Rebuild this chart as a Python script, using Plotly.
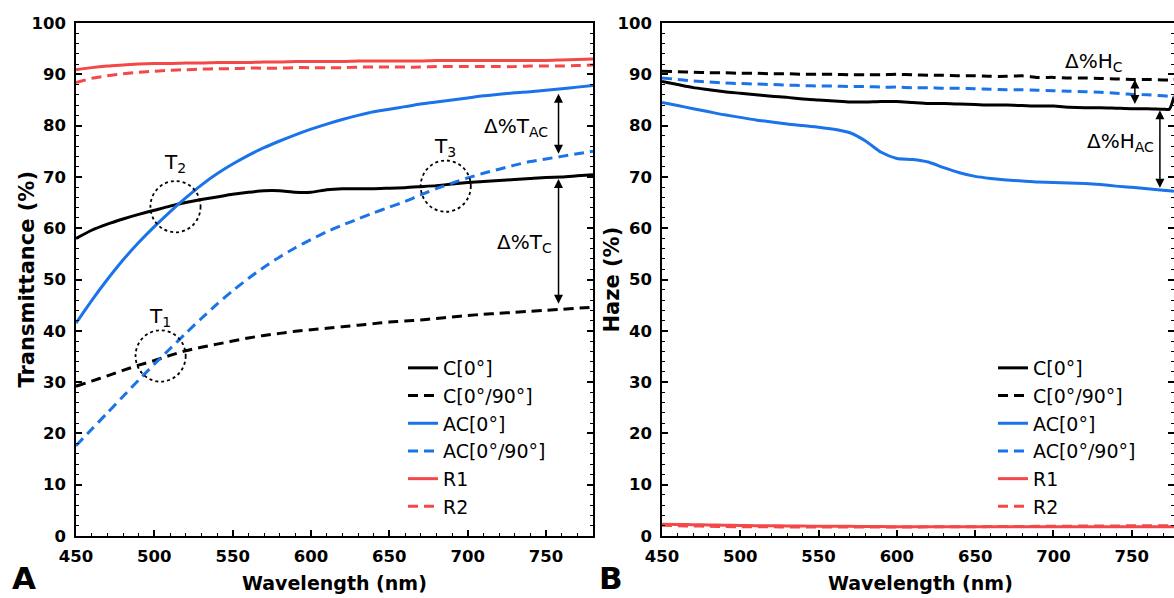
import plotly.graph_objects as go

# ---------------- data ----------------
wl_T = [450, 460, 470, 480, 490, 500, 510, 520, 530, 540, 550, 560, 570, 580, 590, 600, 610,
        620, 630, 640, 650, 660, 670, 680, 690, 700, 710, 720, 730, 740, 750, 760, 770, 780]

T_C0 = [58.0, 59.6, 60.8, 61.8, 62.7, 63.5, 64.3, 65.0, 65.6, 66.1, 66.6, 67.0, 67.3, 67.3, 67.0,
        67.0, 67.5, 67.7, 67.7, 67.7, 67.8, 67.9, 68.1, 68.3, 68.6, 68.9, 69.1, 69.3, 69.5, 69.7,
        69.9, 70.0, 70.2, 70.4]
T_C90 = [29.2, 30.2, 31.2, 32.3, 33.3, 34.2, 35.2, 36.1, 36.8, 37.4, 38.0, 38.6, 39.1, 39.5, 39.9,
         40.2, 40.5, 40.8, 41.1, 41.4, 41.7, 41.9, 42.1, 42.4, 42.7, 43.0, 43.2, 43.4, 43.6, 43.8,
         44.0, 44.2, 44.4, 44.6]
T_AC0 = [41.5, 45.9, 50.0, 53.8, 57.2, 60.3, 63.2, 65.9, 68.4, 70.6, 72.5, 74.2, 75.7, 77.0, 78.2,
         79.3, 80.3, 81.2, 82.0, 82.7, 83.2, 83.7, 84.2, 84.6, 85.0, 85.4, 85.8, 86.1, 86.4, 86.6,
         86.9, 87.2, 87.5, 87.8]
T_AC90 = [17.6, 20.8, 24.0, 27.2, 30.4, 33.5, 36.5, 39.5, 42.4, 45.2, 47.8, 50.2, 52.4, 54.4, 56.2,
          57.8, 59.3, 60.6, 61.8, 63.0, 64.1, 65.2, 66.5, 67.7, 68.8, 69.8, 70.7, 71.5, 72.3, 73.0,
          73.5, 74.0, 74.5, 75.0]
T_R1 = [90.9, 91.3, 91.6, 91.8, 92.0, 92.1, 92.1, 92.2, 92.2, 92.3, 92.3, 92.3, 92.4, 92.4, 92.5,
        92.5, 92.5, 92.5, 92.6, 92.6, 92.6, 92.6, 92.6, 92.7, 92.7, 92.7, 92.7, 92.7, 92.7, 92.7,
        92.7, 92.8, 92.9, 93.0]
T_R2 = [88.4, 89.2, 89.7, 90.1, 90.4, 90.6, 90.8, 90.9, 91.0, 91.1, 91.1, 91.2, 91.2, 91.2, 91.3,
        91.3, 91.3, 91.3, 91.4, 91.4, 91.4, 91.4, 91.4, 91.5, 91.5, 91.5, 91.5, 91.5, 91.5, 91.6,
        91.6, 91.6, 91.7, 91.8]

wl_H = [450, 460, 470, 480, 490, 500, 510, 520, 530, 540, 550, 560, 570, 580, 590, 600, 610,
        620, 630, 640, 650, 660, 670, 680, 690, 700, 710, 720, 730, 740, 750, 760, 770, 774, 777]

H_C0 = [88.6, 88.0, 87.4, 87.0, 86.6, 86.3, 86.0, 85.7, 85.5, 85.2, 85.0, 84.8, 84.6, 84.6, 84.7,
        84.7, 84.5, 84.3, 84.3, 84.2, 84.1, 84.0, 84.0, 83.9, 83.8, 83.8, 83.6, 83.5, 83.5, 83.4,
        83.3, 83.3, 83.2, 83.2, 85.6]
H_C90 = [90.6, 90.5, 90.4, 90.3, 90.3, 90.2, 90.2, 90.1, 90.1, 90.0, 90.0, 90.0, 89.9, 89.9, 89.9,
         90.0, 89.9, 89.8, 89.8, 89.7, 89.7, 89.6, 89.6, 89.7, 89.4, 89.4, 89.3, 89.3, 89.2, 89.1,
         89.0, 89.0, 88.9, 88.9, 89.0]
H_AC0 = [84.5, 83.9, 83.3, 82.7, 82.1, 81.6, 81.1, 80.7, 80.3, 80.0, 79.7, 79.3, 78.6, 77.0, 74.8,
         73.6, 73.4, 72.9, 71.8, 70.8, 70.1, 69.7, 69.4, 69.2, 69.0, 68.9, 68.8, 68.7, 68.5, 68.2,
         68.0, 67.7, 67.4, 67.3, 67.2]
H_AC90 = [89.3, 89.0, 88.7, 88.5, 88.3, 88.2, 88.1, 88.0, 87.9, 87.8, 87.7, 87.7, 87.6, 87.6, 87.5,
          87.5, 87.4, 87.4, 87.3, 87.3, 87.2, 87.1, 87.0, 87.0, 86.9, 86.8, 86.7, 86.6, 86.5, 86.3,
          86.1, 86.0, 85.8, 85.7, 85.6]
H_R1 = [2.3, 2.25, 2.2, 2.15, 2.1, 2.05, 2.0, 2.0, 1.95, 1.95, 1.9, 1.9, 1.9, 1.85, 1.85,
        1.8, 1.8, 1.8, 1.8, 1.8, 1.8, 1.8, 1.8, 1.8, 1.8, 1.8, 1.8, 1.8, 1.8, 1.8,
        1.8, 1.8, 1.8, 1.8, 1.8]
H_R2 = [2.1, 2.0, 1.95, 1.9, 1.85, 1.8, 1.8, 1.8, 1.75, 1.75, 1.75, 1.75, 1.75, 1.75, 1.75,
        1.75, 1.75, 1.8, 1.8, 1.8, 1.8, 1.85, 1.85, 1.85, 1.9, 1.9, 1.9, 1.95, 1.95, 1.95,
        2.0, 2.0, 2.0, 2.0, 2.0]

series_names = ["C[0°]", "C[0°/90°]", "AC[0°]", "AC[0°/90°]", "R1", "R2"]
x_ticks = [450, 500, 550, 600, 650, 700, 750]
y_ticks = [0, 10, 20, 30, 40, 50, 60, 70, 80, 90, 100]

# crossing-point circles (center wl, center %, radius wl, radius %) and labels
circles = [(504, 35.1, 16, 5.0), (513.5, 64.2, 16, 5.0), (686, 68.2, 16, 5.0)]
circle_labels = [("T<sub>1</sub>", 503.6, 42.7), ("T<sub>2</sub>", 513, 72.7), ("T<sub>3</sub>", 685.5, 75.8)]

# ---------------- styles ----------------
BLACK = "#000000"
BLUE = "#1a73e8"
RED = "#f44848"
colors = [BLACK, BLACK, BLUE, BLUE, RED, RED]
dashes = ["solid", "10px,6px", "solid", "10px,6px", "solid", "10px,6px"]
FONT = "DejaVu Sans"

fig = go.Figure()

T_series = [T_C0, T_C90, T_AC0, T_AC90, T_R1, T_R2]
H_series = [H_C0, H_C90, H_AC0, H_AC90, H_R1, H_R2]

for name, ys, c, d in zip(series_names, T_series, colors, dashes):
    fig.add_trace(go.Scatter(x=wl_T, y=ys, mode="lines", name=name,
                             line=dict(color=c, width=3, dash=d, shape="spline", smoothing=0.6),
                             xaxis="x", yaxis="y", legend="legend"))
for name, ys, c, d in zip(series_names, H_series, colors, dashes):
    fig.add_trace(go.Scatter(x=wl_H, y=ys, mode="lines", name=name,
                             line=dict(color=c, width=3, dash=d, shape="spline", smoothing=0.6),
                             xaxis="x2", yaxis="y2", legend="legend2"))

W, H = 1174, 598
top, bottom = 23, 536

def px(xp):
    return xp / W

def py(yp):
    return (bottom - yp) / (bottom - top)

tickfont = dict(family=FONT, size=16.5, color="black", weight="bold")
axis_common = dict(showline=True, linecolor="black", linewidth=1.5, ticks="inside",
                   tickcolor="black", tickwidth=1.5, ticklen=6, showgrid=False,
                   zeroline=False, tickfont=tickfont, automargin=False)

xa = dict(axis_common, tickmode="array", tickvals=x_ticks, mirror=True, ticklabelstandoff=4,
          minor=dict(ticks="inside", ticklen=3, tickwidth=1.2, dtick=10, tick0=450,
                     tickcolor="black", showgrid=False))
ya = dict(axis_common, tickmode="array", tickvals=y_ticks, mirror="ticks", range=[0, 100],
          ticklabelstandoff=5,
          minor=dict(ticks="inside", ticklen=3, tickwidth=1.2, dtick=2, tick0=0,
                     tickcolor="black", showgrid=False))

fig.update_layout(
    width=W, height=H,
    margin=dict(l=0, r=0, t=top, b=H - bottom, autoexpand=False),
    paper_bgcolor="white", plot_bgcolor="white",
    font=dict(family=FONT, color="black"),
    xaxis=dict(xa, domain=[px(76), px(593)], range=[450, 780], anchor="y"),
    yaxis=dict(ya, anchor="x"),
    xaxis2=dict(xa, domain=[px(662), 1.0], range=[450, 777], anchor="y2"),
    yaxis2=dict(ya, anchor="x2"),
    legend=dict(x=px(403), y=py(349), xanchor="left", yanchor="top",
                bgcolor="rgba(0,0,0,0)", font=dict(family=FONT, size=19, color="black"),
                tracegroupgap=0),
    legend2=dict(x=px(993), y=py(349), xanchor="left", yanchor="top",
                 bgcolor="rgba(0,0,0,0)", font=dict(family=FONT, size=19, color="black"),
                 tracegroupgap=0),
    showlegend=True,
)

# axis titles
title_font = dict(family=FONT, size=19, color="black", weight="bold")
ytitle_font = dict(family=FONT, size=21, color="black", weight="bold")
for xc in (334, 920):
    fig.add_annotation(text="Wavelength (nm)", x=px(xc), y=py(583), xref="paper", yref="paper",
                       showarrow=False, font=title_font, xanchor="center", yanchor="middle")
fig.add_annotation(text="Transmittance (%)", x=px(26), y=0.5, xref="paper", yref="paper",
                   showarrow=False, font=ytitle_font, textangle=-90,
                   xanchor="center", yanchor="middle")
fig.add_annotation(text="Haze (%)", x=px(611), y=0.5, xref="paper", yref="paper",
                   showarrow=False, font=ytitle_font, textangle=-90,
                   xanchor="center", yanchor="middle")

# panel letters
panel_font = dict(family=FONT, size=31, color="black", weight="bold")
fig.add_annotation(text="A", x=px(24), y=py(578), xref="paper", yref="paper",
                   showarrow=False, font=panel_font, xanchor="center", yanchor="middle")
fig.add_annotation(text="B", x=px(611), y=py(578), xref="paper", yref="paper",
                   showarrow=False, font=panel_font, xanchor="center", yanchor="middle")

# dotted circles and their labels
for (cx, cy, rx, ry) in circles:
    fig.add_shape(type="circle", xref="x", yref="y", x0=cx - rx, x1=cx + rx,
                  y0=cy - ry, y1=cy + ry, line=dict(color="black", width=1.8, dash="dot"))
lab_font = dict(family=FONT, size=20, color="black")
for (t, lx, ly) in circle_labels:
    fig.add_annotation(text=t, x=lx, y=ly, xref="x", yref="y", showarrow=False,
                       font=lab_font, xanchor="center", yanchor="middle")

# difference arrows
def darrow(x, y0, y1, xr, yr):
    fig.add_annotation(x=x, y=y1, ax=x, ay=y0, xref=xr, yref=yr, axref=xr, ayref=yr,
                       text="", showarrow=True, arrowhead=2, startarrowhead=2,
                       arrowside="end+start", arrowsize=1.2, startarrowsize=1.2,
                       arrowwidth=1.5, arrowcolor="black", standoff=0, startstandoff=0)

darrow(758, 74.2, 86.2, "x", "y")
darrow(758, 45.0, 69.6, "x", "y")
darrow(752, 83.9, 89.0, "x2", "y2")
darrow(768, 67.6, 83.0, "x2", "y2")

fig.add_annotation(text="Δ%T<sub>AC</sub>", x=731, y=79.7, xref="x", yref="y", showarrow=False,
                   font=lab_font, xanchor="center", yanchor="middle")
fig.add_annotation(text="Δ%T<sub>C</sub>", x=736.5, y=57.1, xref="x", yref="y", showarrow=False,
                   font=lab_font, xanchor="center", yanchor="middle")
fig.add_annotation(text="Δ%H<sub>C</sub>", x=725.7, y=92.4, xref="x2", yref="y2", showarrow=False,
                   font=lab_font, xanchor="center", yanchor="middle")
fig.add_annotation(text="Δ%H<sub>AC</sub>", x=743, y=76.8, xref="x2", yref="y2", showarrow=False,
                   font=lab_font, xanchor="center", yanchor="middle")

fig.write_html("out.html", config={"displayModeBar": False},
               post_script="document.body.style.margin='0';document.body.style.overflow='hidden';")
